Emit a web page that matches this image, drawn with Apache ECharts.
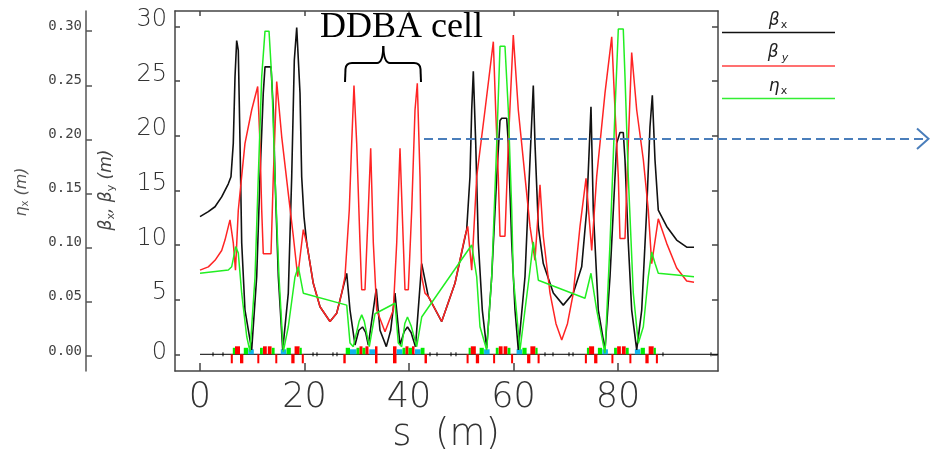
<!DOCTYPE html>
<html><head><meta charset="utf-8">
<script src="https://cdn.jsdelivr.net/npm/echarts@6/dist/echarts.min.js"></script>
<style>html,body{margin:0;padding:0;background:#fff}#c{width:930px;height:449px}</style>
</head><body><div id="c"></div>
<script>
// ---- data (s in m) ----
const X_TICKS = [0, 20, 40, 60, 80];
const BETA_TICKS = [0, 5, 10, 15, 20, 25, 30];
const ETA_TICKS = [0, 0.05, 0.10, 0.15, 0.20, 0.25, 0.30];

const betaX = [
[0,12.6],[1.59,13.05],[2.87,13.5],[4.15,14.4],[5.42,15.6],[5.93,16.25],[6.37,19.3],[6.70,25.4],[7.02,28.7],[7.33,27.8],[7.66,19.3],[7.98,10.2],[8.61,4.05],[9.89,0.4],[10.85,7.1],[11.48,16.25],[12.11,23.9],[12.44,26.3],[13.59,26.3],[14.03,22.4],[14.35,16.25],[14.99,7.1],[15.83,0.4],[16.90,5.6],[17.55,16.25],[18.05,26.9],[18.51,29.9],[19.14,23.9],[19.46,16.25],[19.90,12.6],[20.42,10.2],[21.68,6.5],[22.97,4.35],[24.88,3.0],[26.16,3.75],[27.12,5.6],[28.08,7.4],[28.71,4.05],[29.67,0.85],[30.4,2.2],[31.10,2.5],[31.7,2.0],[32.21,0.85],[33.74,6.0],[34.45,2.2],[35.66,0.7],[36.50,2.2],[37.32,5.6],[38.28,0.85],[39.1,2.1],[39.71,2.5],[40.4,2.0],[41.24,0.7],[42.43,8.3],[43.69,5.3],[46.26,3.0],[48.80,6.5],[51.04,11.4],[51.67,16.25],[52.00,22.35],[52.31,25.9],[52.77,19.3],[53.27,10.2],[54.03,4.05],[54.87,0.55],[55.83,7.1],[56.79,16.25],[57.42,21.4],[57.74,21.6],[58.70,21.6],[59.01,19.3],[59.66,10.2],[60.29,4.05],[60.92,0.4],[62.20,7.1],[63.16,17.8],[63.79,24.6],[64.11,19.3],[64.75,11.7],[65.70,8.3],[67.62,5.6],[69.53,4.5],[71.45,5.6],[73.05,8.0],[74.01,13.2],[74.83,22.65],[75.27,13.2],[76.23,4.05],[77.51,0.4],[78.47,7.1],[79.11,13.2],[79.75,19.3],[80.38,20.3],[81.01,20.3],[81.34,17.8],[81.97,10.2],[82.62,4.05],[83.58,0.4],[84.54,4.05],[85.49,13.2],[86.12,20.8],[86.57,23.7],[87.08,17.8],[87.71,13.2],[89.32,11.7],[91.23,10.45],[93.15,9.8],[94.55,9.8]
];

const betaY = [
[0,7.7],[1.59,8.0],[2.87,8.6],[4.15,9.5],[4.78,10.45],[5.74,12.3],[6.37,10.2],[6.79,7.7],[7.33,13.2],[8.61,19.3],[9.89,22.35],[11.04,24.5],[11.48,19.3],[11.81,13.2],[12.11,9.2],[13.59,9.2],[14.03,16.25],[14.68,24.95],[15.64,19.9],[16.90,14.7],[17.86,10.8],[18.70,7.1],[19.77,11.4],[20.42,10.2],[21.68,6.5],[22.97,4.35],[24.88,3.0],[26.16,3.75],[27.12,5.6],[27.75,7.1],[28.57,13.2],[29.03,19.3],[29.47,24.6],[29.99,19.3],[30.62,10.2],[30.95,5.9],[31.58,5.9],[32.21,13.2],[32.67,18.85],[33.17,10.2],[33.82,4.05],[35.41,2.07],[37.00,4.05],[37.65,10.2],[38.28,18.85],[38.91,10.2],[39.23,5.9],[39.87,5.9],[40.52,13.2],[41.15,22.35],[41.59,24.8],[42.11,16.25],[42.43,7.1],[43.06,5.6],[43.69,5.3],[46.26,3.0],[48.80,6.5],[50.72,10.8],[51.24,11.7],[52.00,7.7],[52.96,16.25],[54.55,22.35],[56.14,28.6],[56.59,22.35],[57.09,16.25],[57.42,10.8],[58.37,10.8],[59.01,19.3],[59.96,29.2],[60.92,22.35],[62.20,16.25],[63.16,11.7],[64.11,8.6],[65.07,15.5],[65.70,10.8],[66.99,5.6],[68.13,2.8],[69.23,1.3],[70.33,2.8],[71.45,5.6],[72.73,11.7],[73.88,16.1],[74.97,9.5],[75.92,16.25],[77.51,23.9],[78.80,29.05],[79.43,22.35],[80.06,16.25],[80.38,10.6],[81.34,10.6],[81.97,19.3],[82.62,27.6],[83.58,22.35],[84.85,17.8],[85.80,13.2],[86.45,8.3],[87.71,12.4],[89.32,10.15],[91.23,7.9],[93.15,6.7],[94.55,6.6]
];

const etaX = [
[0,0.0764],[5.42,0.0794],[6.07,0.0825],[6.83,0.101],[7.33,0.095],[7.98,0.058],[8.94,0.018],[9.57,0.004],[10.53,0.073],[11.16,0.166],[11.81,0.258],[12.44,0.300],[13.21,0.300],[13.72,0.258],[14.35,0.166],[15.12,0.073],[15.94,0.004],[16.90,0.027],[18.18,0.073],[18.81,0.0825],[19.77,0.058],[28.08,0.047],[28.71,0.012],[29.34,0.0086],[30.45,0.032],[30.95,0.038],[31.45,0.032],[32.40,0.0086],[33.49,0.039],[37.32,0.0487],[37.95,0.012],[38.60,0.0086],[39.2,0.030],[39.71,0.036],[40.4,0.028],[41.47,0.0086],[42.43,0.036],[52.00,0.1025],[52.31,0.104],[52.96,0.073],[53.59,0.027],[54.87,0.0055],[55.83,0.073],[56.79,0.196],[57.42,0.286],[58.37,0.286],[59.01,0.227],[59.66,0.135],[59.96,0.073],[61.24,0.0055],[62.20,0.0425],[63.16,0.0794],[63.79,0.1055],[64.75,0.070],[65.07,0.0686],[73.68,0.0533],[74.83,0.0764],[75.92,0.0425],[77.51,0.0025],[78.47,0.104],[79.43,0.227],[80.06,0.302],[81.01,0.302],[81.34,0.258],[81.97,0.1655],[82.93,0.058],[83.89,0.0117],[84.85,0.027],[85.80,0.073],[86.45,0.096],[87.08,0.0856],[87.71,0.0764],[91.23,0.0748],[94.55,0.0732]
];

// lattice elements: [s start, s end, kind]  BU=dipole (up), BD=dipole (down), Q=quadrupole, S=sextupole, M=monitor
const latticeLine = [[0, 0], [99.14, 0]];
const magnets = [
[5.89,6.28,'BD'],[6.28,6.70,'Q'],[6.70,7.66,'BU'],[7.66,8.29,'BD'],[8.38,9.19,'Q'],[9.24,10.30,'S'],[10.97,11.35,'BD'],[11.48,12.02,'Q'],[12.06,12.78,'BU'],[12.98,13.70,'BU'],[13.74,14.28,'Q'],[14.41,14.79,'BD'],[15.46,16.52,'S'],[16.57,17.38,'Q'],[17.47,18.10,'BD'],[18.10,19.06,'BU'],[19.06,19.48,'Q'],[19.48,19.87,'BD'],
[27.43,27.89,'BD'],[27.89,28.71,'Q'],[28.71,29.95,'S'],[29.95,30.53,'Q'],[30.53,31.10,'BU'],[31.10,31.67,'Q'],[31.67,32.25,'BU'],[32.40,33.49,'S'],[33.49,33.97,'BU'],[33.49,33.97,'BD'],[36.94,37.61,'BU'],[36.94,37.61,'BD'],[37.65,38.76,'S'],[38.76,39.33,'Q'],[39.33,39.90,'BU'],[39.90,40.57,'Q'],[40.57,41.05,'BU'],[41.15,42.24,'S'],[42.24,42.97,'Q'],[42.97,43.44,'BD'],
[51.02,51.41,'BD'],[51.41,51.83,'Q'],[51.83,52.79,'BU'],[52.79,53.42,'BD'],[53.51,54.32,'Q'],[54.37,55.43,'S'],[56.10,56.48,'BD'],[56.61,57.15,'Q'],[57.19,57.91,'BU'],[58.11,58.83,'BU'],[58.87,59.41,'Q'],[59.54,59.92,'BD'],[60.59,61.65,'S'],[61.70,62.51,'Q'],[62.60,63.23,'BD'],[63.23,64.19,'BU'],[64.19,64.61,'Q'],[64.61,65.00,'BD'],
[73.66,74.05,'BD'],[74.05,74.47,'Q'],[74.47,75.43,'BU'],[75.43,76.06,'BD'],[76.15,76.96,'Q'],[77.01,78.07,'S'],[78.74,79.12,'BD'],[79.25,79.79,'Q'],[79.83,80.55,'BU'],[80.75,81.47,'BU'],[81.51,82.05,'Q'],[82.18,82.56,'BD'],[83.23,84.29,'S'],[84.34,85.15,'Q'],[85.24,85.87,'BD'],[85.87,86.83,'BU'],[86.83,87.25,'Q'],[87.25,87.64,'BD'],
[2.49,2.49,'M'],[4.40,4.40,'M'],[21.63,21.63,'M'],[22.39,22.39,'M'],[25.45,25.45,'M'],[26.22,26.22,'M'],[44.02,44.02,'M'],[45.36,45.36,'M'],[48.04,48.04,'M'],[48.99,48.99,'M'],[66.03,66.03,'M'],[67.56,67.56,'M'],[70.62,70.62,'M'],[71.39,71.39,'M'],[88.61,88.61,'M'],[97.80,97.80,'M']
];
const KINDS = ['BU', 'BD', 'Q', 'S', 'M'];

// ---- chart ----
const chart = echarts.init(document.getElementById('c'), null, {renderer: 'canvas'});
const FRAME = '#444';
const lineAx = {show: true, onZero: false, lineStyle: {color: FRAME, width: 1.5}};

function renderMagnet(params, api) {
  const k = KINDS[api.value(2)];
  const a = api.coord([api.value(0), 0]);
  const b = api.coord([api.value(1), 0]);
  const y = a[1];
  const w = Math.max(b[0] - a[0], 1.5);
  if (k === 'M') {
    return {type: 'line', shape: {x1: a[0], y1: y - 2, x2: a[0], y2: y + 2}, style: {stroke: '#000', lineWidth: 1}};
  }
  const spec = {BU: [-8, 8, '#ff0000'], BD: [0, 9, '#ff0000'], Q: [-6.5, 6.5, '#00ee00'], S: [-5, 5, '#10b4ec']}[k];
  return {type: 'rect', shape: {x: a[0], y: y + spec[0], width: w, height: spec[1]}, style: {fill: spec[2]}};
}

const BRACE = {stroke: '#000', lineWidth: 2, fill: null};
const betaRich = {
  n: {fontSize: 24, fontFamily: 'DejaVu Sans', fontWeight: 200, color: '#333', padding: [0, 0, 13, 0]},
  z: {fontSize: 24, fontFamily: 'DejaVu Sans', fontWeight: 200, color: '#333', padding: [0, 0, 3, 0]}
};
const etaRich = {
  e: {fontSize: 14, fontFamily: 'DejaVu Sans Mono', color: '#444', padding: [0, 0, 10, 0]}
};
const option = {
  animation: false,
  backgroundColor: '#fff',
  grid: {left: 175, right: 212, top: 11, bottom: 78},
  xAxis: [
    {type: 'value', position: 'bottom', min: -4.785, max: 99.14, axisLine: lineAx,
     axisTick: {show: true, inside: true, length: 8, customValues: X_TICKS, lineStyle: {color: FRAME, width: 1.5}},
     axisLabel: {customValues: X_TICKS, fontSize: 35, margin: 9, fontFamily: 'DejaVu Sans', fontWeight: 200, color: '#333'},
     splitLine: {show: false}},
    {type: 'value', position: 'top', min: -4.785, max: 99.14, axisLine: lineAx,
     axisTick: {show: true, inside: true, length: 5, customValues: X_TICKS, lineStyle: {color: FRAME, width: 1.5}},
     axisLabel: {show: false}, splitLine: {show: false}}
  ],
  yAxis: [
    {type: 'value', position: 'left', min: -1.528, max: 31.41, axisLine: lineAx,
     axisTick: {show: true, inside: true, length: 5, customValues: BETA_TICKS, lineStyle: {color: FRAME, width: 1.5}},
     axisLabel: {customValues: BETA_TICKS, margin: 8, rich: betaRich,
       formatter: v => (v === 0 ? '{z|' + v + '}' : '{n|' + v + '}')},
     splitLine: {show: false}},
    {type: 'value', position: 'left', offset: 89, min: -0.01385, max: 0.3186,
     axisLine: {show: true, onZero: false, lineStyle: {color: '#555', width: 1.5}},
     axisTick: {show: true, inside: true, length: 6, customValues: ETA_TICKS, lineStyle: {color: '#555', width: 1.5}},
     axisLabel: {customValues: ETA_TICKS, margin: 4, rich: etaRich, formatter: v => '{e|' + v.toFixed(2) + '}'},
     splitLine: {show: false}},
    {type: 'value', position: 'right', min: -1.528, max: 31.41, axisLine: lineAx,
     axisTick: {show: true, inside: true, length: 6, customValues: BETA_TICKS, lineStyle: {color: FRAME, width: 1.5}},
     axisLabel: {show: false}, splitLine: {show: false}}
  ],
  series: [
    {type: 'line', name: 'lattice', data: latticeLine, xAxisIndex: 0, yAxisIndex: 0, showSymbol: false,
     lineStyle: {color: '#000', width: 1}, z: 2, silent: true},
    {type: 'custom', name: 'magnets', xAxisIndex: 0, yAxisIndex: 0, renderItem: renderMagnet,
     data: magnets.map(m => [m[0], m[1], KINDS.indexOf(m[2])]), encode: {x: [0, 1]}, z: 3, silent: true},
    {type: 'line', name: 'βx', data: betaX, xAxisIndex: 0, yAxisIndex: 0, showSymbol: false,
     lineStyle: {color: '#111', width: 1.6}, z: 4},
    {type: 'line', name: 'βy', data: betaY, xAxisIndex: 0, yAxisIndex: 0, showSymbol: false,
     lineStyle: {color: '#ff2424', width: 1.5}, z: 5},
    {type: 'line', name: 'ηx', data: etaX, xAxisIndex: 0, yAxisIndex: 1, showSymbol: false,
     lineStyle: {color: '#22ee22', width: 1.5}, z: 6}
  ],
  graphic: [
    // axis names
    {type: 'text', x: 22, y: 192, rotation: Math.PI / 2, z: 50,
     style: {text: '{b|η}{s|x}{b| (m)}', align: 'center', verticalAlign: 'middle',
       rich: {b: {fontSize: 16, fontFamily: 'DejaVu Sans', fill: '#555', fontStyle: 'italic'},
              s: {fontSize: 10, fontFamily: 'DejaVu Sans', fill: '#555', padding: [7, 0, 0, 0]}}}},
    {type: 'text', x: 107, y: 190, rotation: Math.PI / 2, z: 50,
     style: {text: '{b|β}{s|x}{b|, β}{s|y}{b| (m)}', align: 'center', verticalAlign: 'middle',
       rich: {b: {fontSize: 17, fontFamily: 'DejaVu Sans', fill: '#444', fontStyle: 'italic'},
              s: {fontSize: 11, fontFamily: 'DejaVu Sans', fill: '#444', padding: [8, 0, 0, 0]}}}},
    // x axis name
    {type: 'text', x: 446, y: 435, z: 50,
     style: {text: 's  (m)', align: 'center', verticalAlign: 'middle', fontSize: 37,
       fontFamily: 'DejaVu Sans', fontWeight: 200, fill: '#333'}},
    // legend
    {type: 'line', shape: {x1: 722, y1: 32.5, x2: 835, y2: 32.5}, style: {stroke: '#111', lineWidth: 1.5}, z: 50},
    {type: 'line', shape: {x1: 722, y1: 66, x2: 835, y2: 66}, style: {stroke: '#ff4040', lineWidth: 1.5}, z: 50},
    {type: 'line', shape: {x1: 722, y1: 98.5, x2: 835, y2: 98.5}, style: {stroke: '#33ee33', lineWidth: 1.5}, z: 50},
    {type: 'text', x: 778, y: 21, z: 50,
     style: {text: '{b|β}{s|x}', align: 'center', verticalAlign: 'middle',
       rich: {b: {fontSize: 17, fontFamily: 'DejaVu Sans', fontStyle: 'italic', fill: '#222'},
              s: {fontSize: 11, fontFamily: 'DejaVu Sans', fill: '#222', padding: [9, 0, 0, 1]}}}},
    {type: 'text', x: 778, y: 53, z: 50,
     style: {text: '{b|β}{s|y}', align: 'center', verticalAlign: 'middle',
       rich: {b: {fontSize: 17, fontFamily: 'DejaVu Sans', fontStyle: 'italic', fill: '#222'},
              s: {fontSize: 11, fontFamily: 'DejaVu Sans', fontStyle: 'italic', fill: '#222', padding: [11, 0, 0, 3]}}}},
    {type: 'text', x: 778, y: 87, z: 50,
     style: {text: '{b|η}{s|x}', align: 'center', verticalAlign: 'middle',
       rich: {b: {fontSize: 17, fontFamily: 'DejaVu Sans', fontStyle: 'italic', fill: '#222'},
              s: {fontSize: 11, fontFamily: 'DejaVu Sans', fill: '#222', padding: [9, 0, 0, 1]}}}},
    // DDBA annotation
    {type: 'text', x: 320, y: 28, z: 60,
     style: {text: 'DDBA cell', align: 'left', verticalAlign: 'middle', fontSize: 36,
       fontFamily: 'Liberation Serif', fill: '#000'}},
    {type: 'line', z: 60, shape: {x1: 345, y1: 82, x2: 345.5, y2: 69}, style: BRACE},
    {type: 'bezierCurve', z: 60, shape: {x1: 345.5, y1: 69, cpx1: 346, cpy1: 63, x2: 352, y2: 63}, style: BRACE},
    {type: 'line', z: 60, shape: {x1: 352, y1: 63, x2: 377, y2: 63}, style: BRACE},
    {type: 'bezierCurve', z: 60, shape: {x1: 377, y1: 63, cpx1: 383, cpy1: 63, x2: 383.3, y2: 46}, style: BRACE},
    {type: 'bezierCurve', z: 60, shape: {x1: 383.3, y1: 46, cpx1: 383.7, cpy1: 63, x2: 390, y2: 63}, style: BRACE},
    {type: 'line', z: 60, shape: {x1: 390, y1: 63, x2: 414, y2: 63}, style: BRACE},
    {type: 'bezierCurve', z: 60, shape: {x1: 414, y1: 63, cpx1: 420, cpy1: 63, x2: 420.5, y2: 69}, style: BRACE},
    {type: 'line', z: 60, shape: {x1: 420.5, y1: 69, x2: 421, y2: 82}, style: BRACE},
    // dashed arrow
    {type: 'line', z: 70, shape: {x1: 424, y1: 139, x2: 926, y2: 139},
     style: {stroke: '#4a7ebb', lineWidth: 2, lineDash: [9, 5]}},
    {type: 'polyline', z: 70, shape: {points: [[917, 128.5], [928.5, 138.8], [917, 149]]},
     style: {stroke: '#4a7ebb', lineWidth: 2, fill: null}}
  ]
};
chart.setOption(option);
</script></body></html>
